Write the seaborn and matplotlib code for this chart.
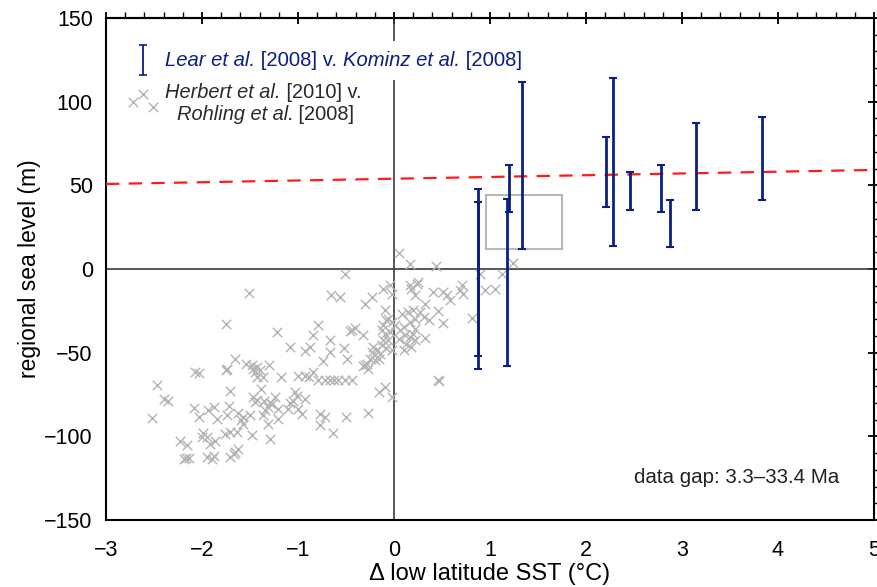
import numpy as np
import pandas as pd
import matplotlib
matplotlib.use("Agg")
import matplotlib.pyplot as plt
import matplotlib.transforms as mtransforms
from matplotlib.patches import Rectangle
from matplotlib.ticker import MultipleLocator
import seaborn as sns

# ---- Lear et al. [2008] v. Kominz et al. [2008]: SST change and sea-level ranges
err_sst = [0.878, 0.878, 1.177, 1.198, 1.333, 2.205, 2.278, 2.461, 2.778, 2.878, 3.146, 3.833]
err_low = [-52, -60, -58, 34, 12, 37, 14, 35, 34, 13, 35, 41]
err_high = [48, 40, 42, 62, 112, 79, 114, 58, 62, 41, 87, 91]

# ---- Herbert et al. [2010] v. Rohling et al. [2008]
herb_sst = [
    -2.52, -2.47, -2.40, -2.35, -2.23, -2.16, -2.17, -2.19, -2.14, -2.07, -2.03,
    -2.08, -2.03, -1.94, -1.88, -1.84, -1.99, -2.00, -1.95, -1.92, -1.86,
    -1.95, -1.90, -1.88, -1.75, -1.75, -1.74, -1.72, -1.74, -1.71,
    -1.66, -1.63, -1.59, -1.57, -1.64, -1.76, -1.71, -1.71, -1.66, -1.62, -1.67,
    -1.51, -1.54, -1.48, -1.47, -1.43, -1.45, -1.40, -1.43, -1.36, -1.30,
    -1.39, -1.47, -1.43, -1.45, -1.35, -1.29, -1.24, -1.27, -1.31,
    -1.50, -1.57, -1.48, -1.34, -1.36, -1.21, -1.21, -1.31, -1.29,
    -1.22, -1.18, -1.08, -1.03, -1.01, -1.05, -1.08, -0.93,
    -1.10, -1.00, -0.96, -1.00, -0.93, -0.89, -0.84,
    -0.79, -0.72, -0.67, -0.62, -0.58, -0.51, -0.44,
    -0.79, -0.84, -0.66, -0.56, -0.51, -0.88, -0.93, -0.67, -0.67, -0.74,
    -0.52, -0.49, -0.44, -0.41, -0.46, -0.32, -0.30, -0.23,
    -0.11, -0.04, -0.02,
    -0.09, -0.08, -0.06, -0.11, -0.02, -0.13, -0.09, -0.04, 0.01, -0.11, -0.06,
    -0.13, -0.08, -0.02,
    -0.22, -0.23, -0.18, -0.20, -0.15, -0.25, -0.20, -0.16, -0.28, -0.32, -0.27, -0.30,
    -0.64, -0.50, -0.27, -0.77, -0.72, -0.77, -0.16, -0.09, -0.02,
    0.05, 0.17, 0.44, 0.17, 0.18, 0.24, 0.22, 0.25,
    0.41, 0.51, 0.55, 0.58, 0.71, 0.72, 0.69,
    0.90, 1.12, 1.24, 0.95, 1.05, 0.81,
    0.08, 0.15, 0.20, 0.22, 0.17, 0.10, 0.06, 0.11, 0.17, 0.22, 0.13, 0.18, 0.10, 0.05,
    0.32, 0.27, 0.31, 0.36, 0.22, 0.20, 0.32, 0.46, 0.51, 0.46, 0.47,
]
herb_sl = [
    -88.8, -69.2, -77.5, -79.0, -102.5, -104.9, -112.9, -113.5, -112.9, -61.6, -62.2,
    -83.2, -88.6, -84.1, -82.6, -89.5, -98.1, -100.5, -100.5, -104.5, -102.5,
    -112.5, -113.5, -111.5, -33.0, -60.6, -60.0, -81.6, -87.5, -73.2,
    -53.6, -85.9, -90.5, -92.5, -97.5, -98.5, -97.5, -112.5, -109.5, -107.5, -110.5,
    -14.3, -56.6, -57.6, -59.6, -58.6, -61.6, -60.6, -64.6, -64.6, -57.6,
    -71.6, -76.6, -78.1, -79.6, -79.0, -80.2, -76.2, -80.5, -82.6,
    -87.5, -88.6, -99.5, -84.5, -87.5, -83.5, -89.5, -92.9, -101.5,
    -37.6, -64.6, -46.6, -73.6, -75.6, -78.6, -80.2, -77.5,
    -83.5, -83.5, -86.5, -64.2, -64.2, -64.6, -61.6,
    -66.4, -66.4, -66.4, -66.4, -66.4, -66.4, -66.4,
    -33.7, -39.6, -15.7, -16.7, -2.7, -46.6, -49.2, -42.4, -49.4, -55.0,
    -47.4, -53.8, -36.6, -35.0, -37.0, -39.6, -20.7, -16.7,
    -11.7, -9.7, -14.7,
    -24.7, -30.7, -29.6, -33.7, -31.7, -36.6, -38.6, -37.7, -33.7, -42.6, -42.6,
    -45.6, -47.0, -48.2,
    -46.6, -49.6, -48.6, -51.6, -50.6, -53.6, -54.6, -53.6, -56.6, -58.2, -59.6, -57.6,
    -97.9, -88.6, -85.9, -86.5, -88.6, -93.5, -73.6, -70.6, -76.2,
    9.6, 2.9, 1.7, -9.7, -11.7, -8.7, -15.7, -8.0,
    -13.7, -13.7, -15.7, -18.7, -9.7, -14.7, -12.7,
    -2.7, -2.7, 3.7, -12.3, -11.7, -29.0,
    -26.6, -25.7, -24.7, -29.6, -31.7, -34.7, -36.6, -39.6, -40.6, -42.6, -44.6, -46.6, -48.6, -41.6,
    -20.7, -25.7, -28.7, -30.7, -35.6, -38.6, -41.0, -25.1, -32.3, -66.6, -66.8,
]

# ---- fitted sea-level line and highlighted box
fit_sst = [-3, 5]
fit_sl = [50.8, 59.2]
box_sst = [0.955, 1.747]
box_sl = [11.9, 44.0]

NAVY = "#0b1f84"
GRAY = "#b3b3b3"

sns.set_style("white")
plt.rcParams["font.family"] = ["Liberation Sans", "DejaVu Sans"]
plt.rcParams["axes.unicode_minus"] = True
plt.rcParams["text.color"] = "black"
plt.rcParams["axes.labelcolor"] = "black"
plt.rcParams["xtick.color"] = "black"
plt.rcParams["ytick.color"] = "black"

fig = plt.figure(figsize=(8.77, 5.87), dpi=100)
ax = fig.add_axes([106 / 877, 1 - 520 / 587, 768 / 877, 502 / 587])
ax.set_xlim(-3, 5)
ax.set_ylim(-150, 150)

# zero reference lines
ax.axhline(0, color="#3a3a3a", lw=1.2, zorder=1)
ax.axvline(0, color="#3a3a3a", lw=1.2, zorder=1)

# scatter of paired records
df = pd.DataFrame({"sst": herb_sst, "sl": herb_sl})
sns.scatterplot(data=df, x="sst", y="sl", marker="x", color=GRAY, s=46,
                linewidth=1.0, ax=ax, zorder=2, legend=False)

# fitted line
ax.plot(fit_sst, fit_sl, color="#ff1a1a", lw=1.6, dashes=(6, 4.2), zorder=3)

# highlighted box
ax.add_patch(Rectangle((box_sst[0], box_sl[0]), box_sst[1] - box_sst[0],
                       box_sl[1] - box_sl[0], fill=False, edgecolor="#b8b8b8",
                       lw=1.5, zorder=3))

# error bars
lo = np.array(err_low, float)
hi = np.array(err_high, float)
mid = (lo + hi) / 2
ax.errorbar(err_sst, mid, yerr=(hi - lo) / 2, fmt="none", ecolor=NAVY,
            elinewidth=2.0, capsize=3.2, capthick=1.5, zorder=4)

# axes styling
for sp in ax.spines.values():
    sp.set_linewidth(1.5)
    sp.set_color("black")
ax.xaxis.set_major_locator(MultipleLocator(1))
ax.xaxis.set_minor_locator(MultipleLocator(0.2))
ax.yaxis.set_major_locator(MultipleLocator(50))
ax.yaxis.set_minor_locator(MultipleLocator(10))
ax.tick_params(axis="x", which="major", direction="inout", length=9, width=1.3,
               labelsize=15.5, pad=10, top=False)
ax.tick_params(axis="x", which="minor", direction="in", length=4, width=1.0, top=False)
ax.tick_params(axis="y", which="major", direction="inout", length=9, width=1.3,
               labelsize=15.5, pad=5, right=True)
ax.tick_params(axis="y", which="minor", direction="out", length=4, width=1.0, right=True)

top = ax.secondary_xaxis("top")
top.xaxis.set_major_locator(MultipleLocator(1))
top.xaxis.set_minor_locator(MultipleLocator(0.2))
top.tick_params(which="major", direction="inout", length=9, width=1.3, labeltop=False)
top.tick_params(which="minor", direction="out", length=4, width=1.0)
top.spines["top"].set_linewidth(1.5)

ax.set_xlabel("Δ low latitude SST (°C)", fontsize=17, labelpad=1)
ax.set_ylabel("regional sea level (m)", fontsize=16.5, labelpad=2)

# legend, built from text runs
fig.canvas.draw()
renderer = fig.canvas.get_renderer()


def text_run(x, y, pieces, color, size=14.4):
    trans = ax.transAxes
    arts = []
    for s, style in pieces:
        t = ax.text(x, y, s, transform=trans, color=color, fontsize=size,
                    fontstyle=style, ha="left", va="center", zorder=6)
        t.draw(renderer)
        ex = t.get_window_extent(renderer)
        trans = mtransforms.offset_copy(t.get_transform(), fig=fig, x=ex.width, units="dots")
        arts.append(t)
    return arts


run1 = text_run(0.077, 0.915, [("Lear et al.", "italic"), (" [2008] v. ", "normal"),
                               ("Kominz et al.", "italic"), (" [2008]", "normal")], NAVY,
                size=14.6)
# white backing behind the first legend line
ext = mtransforms.Bbox.union([a.get_window_extent(renderer) for a in run1])
inv = ax.transAxes.inverted()
(x0, y0), (x1, y1) = inv.transform([[ext.x0, ext.y0], [ext.x1, ext.y1]])
ax.add_patch(Rectangle((x0 - 0.004, y0 - 0.02), (x1 - x0) + 0.008, (y1 - y0) + 0.04,
                       transform=ax.transAxes, facecolor="white", edgecolor="none", zorder=5))

text_run(0.077, 0.852, [("Herbert et al.", "italic"), (" [2010] v.", "normal")], "#2a2a2a")
text_run(0.092, 0.807, [("Rohling et al.", "italic"), (" [2008]", "normal")], "#2a2a2a")

ax.errorbar([0.048], [0.916], yerr=[0.03], transform=ax.transAxes, fmt="none",
            ecolor=NAVY, elinewidth=1.3, capsize=3.2, capthick=1.2, zorder=6)
ax.scatter([0.0356, 0.0486, 0.0616], [0.833, 0.849, 0.823], transform=ax.transAxes,
           marker="x", color=GRAY, s=46, linewidth=1.0, zorder=6)

ax.text(0.6875, 0.084, "data gap: 3.3–33.4 Ma", transform=ax.transAxes,
        fontsize=14.8, color="#222222", ha="left", va="center")

fig.savefig("out.png", dpi=100)
